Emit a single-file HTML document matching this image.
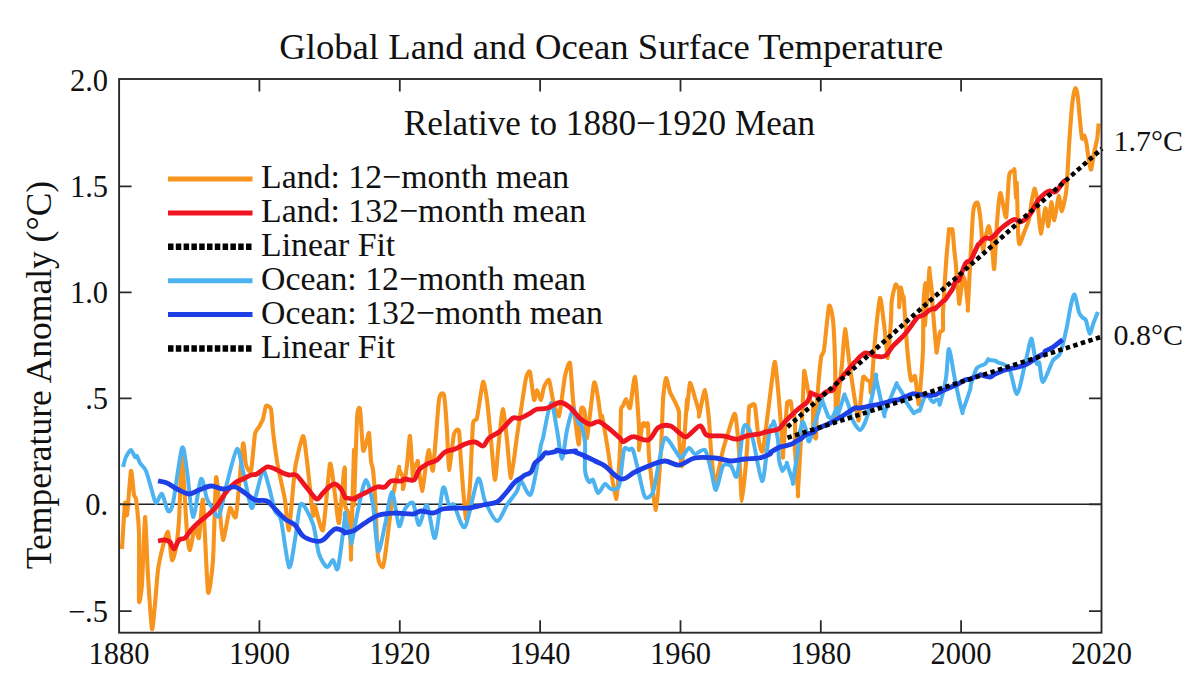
<!DOCTYPE html><html><head><meta charset="utf-8"><style>html,body{margin:0;padding:0;background:#fff;width:1200px;height:685px;overflow:hidden}svg{display:block}text{font-family:"Liberation Serif",serif;fill:#111}</style></head><body><svg width="1200" height="685" viewBox="0 0 1200 685"><line x1="119.1" y1="504.3" x2="1101.5" y2="504.3" stroke="#222" stroke-width="1.6"/><path d="M122.0,549.0 C122.3,544.4 124.5,506.4 125.0,503.0 C125.5,499.6 126.4,518.2 127.0,515.0 C127.6,511.8 130.3,473.0 131.0,471.0 C131.7,469.0 133.5,492.2 134.0,495.0 C134.5,497.8 135.5,495.2 136.0,499.0 C136.5,502.8 138.7,522.8 139.0,533.0 C139.3,543.2 138.7,595.9 139.0,601.0 C139.3,606.1 141.4,592.4 142.0,584.0 C142.6,575.6 144.4,517.8 145.0,517.0 C145.6,516.2 147.3,564.8 148.0,576.0 C148.7,587.2 151.3,626.2 152.0,629.0 C152.7,631.8 154.4,609.9 155.0,604.0 C155.6,598.1 157.2,575.8 158.0,570.0 C158.8,564.2 162.0,549.8 163.0,546.0 C164.0,542.2 167.1,530.6 168.0,532.0 C168.9,533.4 171.2,558.4 172.0,560.0 C172.8,561.6 175.3,552.0 176.0,548.0 C176.7,544.0 178.4,529.1 179.0,520.0 C179.6,510.9 181.2,455.7 182.0,457.0 C182.8,458.3 186.2,523.7 187.0,533.0 C187.8,542.3 189.2,550.7 190.0,550.0 C190.8,549.3 194.1,527.2 195.0,526.0 C195.9,524.8 198.2,540.6 199.0,538.0 C199.8,535.4 202.1,494.6 203.0,500.0 C203.9,505.4 207.0,586.0 208.0,592.0 C209.0,598.0 212.2,571.4 213.0,560.0 C213.8,548.6 215.4,483.9 216.0,478.0 C216.6,472.1 218.3,494.8 219.0,501.0 C219.7,507.2 221.9,539.3 223.0,540.0 C224.1,540.7 228.7,510.4 230.0,508.0 C231.3,505.6 234.7,522.4 236.0,516.0 C237.3,509.6 242.0,449.1 243.0,444.0 C244.0,438.9 245.2,462.3 246.0,465.0 C246.8,467.7 250.1,474.1 251.0,471.0 C251.9,467.9 254.2,438.4 255.0,434.0 C255.8,429.6 258.2,428.5 259.0,427.0 C259.8,425.5 262.3,421.1 263.0,419.0 C263.7,416.9 265.2,407.0 266.0,406.0 C266.8,405.0 270.3,406.5 271.0,409.0 C271.7,411.5 272.4,425.8 273.0,431.0 C273.6,436.2 276.2,456.0 277.0,461.0 C277.8,466.0 280.2,477.1 281.0,481.0 C281.8,484.9 284.2,495.1 285.0,500.0 C285.8,504.9 288.0,533.1 289.0,530.0 C290.0,526.9 293.6,478.4 295.0,469.0 C296.4,459.6 301.8,436.8 303.0,436.0 C304.2,435.2 306.0,453.1 307.0,461.0 C308.0,468.9 312.2,510.5 313.0,515.0 C313.8,519.5 314.0,504.5 315.0,506.0 C316.0,507.5 321.5,534.2 323.0,530.0 C324.5,525.8 328.8,467.5 330.0,464.0 C331.2,460.5 334.1,489.1 335.0,495.0 C335.9,500.9 338.1,525.4 339.0,523.0 C339.9,520.6 343.4,476.3 344.0,471.0 C344.6,465.7 344.9,466.6 345.0,470.0 C345.1,473.4 344.6,500.5 345.0,505.0 C345.4,509.5 348.4,510.1 349.0,515.0 C349.6,519.9 350.8,550.1 351.0,554.0 C351.2,557.9 350.7,564.4 351.0,554.0 C351.3,543.6 353.7,454.9 354.0,450.0 C354.3,445.1 353.7,508.2 354.0,505.0 C354.3,501.8 356.4,427.6 357.0,418.0 C357.6,408.4 359.4,405.8 360.0,409.0 C360.6,412.2 362.4,446.5 363.0,450.0 C363.6,453.5 365.4,445.7 366.0,444.0 C366.6,442.3 368.5,431.3 369.0,433.0 C369.5,434.7 370.6,457.3 371.0,461.0 C371.4,464.7 372.6,466.6 373.0,470.0 C373.4,473.4 374.5,486.3 375.0,495.0 C375.5,503.7 377.2,549.8 378.0,557.0 C378.8,564.2 382.2,567.8 383.0,567.0 C383.8,566.2 385.4,553.2 386.0,549.0 C386.6,544.8 388.3,530.4 389.0,525.0 C389.7,519.6 392.0,500.7 393.0,495.0 C394.0,489.3 398.4,470.6 399.0,468.0 C399.6,465.4 398.6,468.0 399.0,469.0 C399.4,470.0 402.6,476.0 403.0,478.0 C403.4,480.0 402.6,490.3 403.0,489.0 C403.4,487.7 406.3,470.3 407.0,465.0 C407.7,459.7 409.4,434.6 410.0,436.0 C410.6,437.4 412.6,475.8 413.0,479.0 C413.4,482.2 413.6,469.6 414.0,468.0 C414.4,466.4 416.6,463.6 417.0,463.0 C417.4,462.4 417.5,459.2 418.0,462.0 C418.5,464.8 421.2,490.7 422.0,491.0 C422.8,491.3 425.3,469.1 426.0,465.0 C426.7,460.9 428.3,449.5 429.0,450.0 C429.7,450.5 432.0,475.0 433.0,470.0 C434.0,465.0 437.9,407.5 439.0,400.0 C440.1,392.5 443.2,392.0 444.0,395.0 C444.8,398.0 446.5,422.5 447.0,430.0 C447.5,437.5 448.3,469.6 449.0,470.0 C449.7,470.4 453.0,437.9 454.0,434.0 C455.0,430.1 458.3,428.2 459.0,431.0 C459.7,433.8 460.3,453.2 461.0,462.0 C461.7,470.8 465.1,516.7 466.0,519.0 C466.9,521.3 469.3,494.5 470.0,485.0 C470.7,475.5 472.3,430.7 473.0,424.0 C473.7,417.3 476.0,422.2 477.0,418.0 C478.0,413.8 482.0,383.8 483.0,382.0 C484.0,380.2 486.2,394.2 487.0,400.0 C487.8,405.8 490.2,432.0 491.0,440.0 C491.8,448.0 494.2,480.0 495.0,480.0 C495.8,480.0 498.2,447.1 499.0,440.0 C499.8,432.9 502.2,409.0 503.0,409.0 C503.8,409.0 506.2,433.1 507.0,440.0 C507.8,446.9 510.0,478.4 511.0,478.0 C512.0,477.6 516.0,442.8 517.0,436.0 C518.0,429.2 520.1,415.8 521.0,410.0 C521.9,404.2 525.1,381.8 526.0,378.0 C526.9,374.2 529.2,369.8 530.0,372.0 C530.8,374.2 533.3,398.2 534.0,400.0 C534.7,401.8 536.3,390.0 537.0,390.0 C537.7,390.0 540.3,400.3 541.0,400.0 C541.7,399.7 543.2,389.0 544.0,387.0 C544.8,385.0 548.1,378.7 549.0,380.0 C549.9,381.3 552.0,396.4 553.0,400.0 C554.0,403.6 557.8,418.4 559.0,416.0 C560.2,413.6 563.9,381.3 565.0,376.0 C566.1,370.7 569.2,360.6 570.0,363.0 C570.8,365.4 572.3,392.9 573.0,400.0 C573.7,407.1 576.4,429.6 577.0,434.0 C577.6,438.4 578.6,446.4 579.0,444.0 C579.4,441.6 580.6,413.6 581.0,410.0 C581.4,406.4 582.6,407.6 583.0,408.0 C583.4,408.4 584.6,411.0 585.0,414.0 C585.4,417.0 586.1,441.1 587.0,438.0 C587.9,434.9 592.9,387.0 594.0,383.0 C595.1,379.0 597.3,394.3 598.0,398.0 C598.7,401.7 600.6,418.2 601.0,420.0 C601.4,421.8 601.4,413.6 602.0,416.0 C602.6,418.4 605.6,435.7 607.0,444.0 C608.4,452.3 614.7,498.4 616.0,499.0 C617.3,499.6 619.5,458.9 620.0,450.0 C620.5,441.1 620.7,414.4 621.0,410.0 C621.3,405.6 622.5,407.1 623.0,406.0 C623.5,404.9 625.3,398.8 626.0,399.0 C626.7,399.2 629.1,410.2 630.0,408.0 C630.9,405.8 634.1,375.0 635.0,377.0 C635.9,379.0 638.6,420.7 639.0,428.0 C639.4,435.3 638.7,450.2 639.0,450.0 C639.3,449.8 641.5,428.7 642.0,426.0 C642.5,423.3 643.7,423.0 644.0,423.0 C644.3,423.0 644.6,425.9 645.0,426.0 C645.4,426.1 647.6,421.0 648.0,424.0 C648.4,427.0 648.2,447.4 649.0,456.0 C649.8,464.6 654.8,510.6 656.0,510.0 C657.2,509.4 660.3,461.0 661.0,450.0 C661.7,439.0 662.5,407.2 663.0,400.0 C663.5,392.8 665.3,378.8 666.0,378.0 C666.7,377.2 669.1,389.6 670.0,392.0 C670.9,394.4 674.1,400.0 675.0,402.0 C675.9,404.0 678.6,408.8 679.0,412.0 C679.4,415.2 678.7,428.6 679.0,434.0 C679.3,439.4 681.2,469.4 682.0,466.0 C682.8,462.6 686.5,405.6 687.0,400.0 C687.5,394.4 686.7,411.7 687.0,410.0 C687.3,408.3 689.2,384.2 690.0,383.0 C690.8,381.8 694.1,395.1 695.0,398.0 C695.9,400.9 698.6,410.2 699.0,412.0 C699.4,413.8 698.4,418.2 699.0,416.0 C699.6,413.8 704.0,389.6 705.0,390.0 C706.0,390.4 708.4,414.0 709.0,420.0 C709.6,426.0 710.4,443.6 711.0,450.0 C711.6,456.4 713.8,484.0 715.0,484.0 C716.2,484.0 721.6,455.4 723.0,450.0 C724.4,444.6 727.8,433.6 729.0,430.0 C730.2,426.4 734.0,412.0 735.0,414.0 C736.0,416.0 738.3,441.3 739.0,450.0 C739.7,458.7 741.2,501.0 742.0,501.0 C742.8,501.0 746.3,459.3 747.0,450.0 C747.7,440.7 748.6,412.4 749.0,408.0 C749.4,403.6 750.6,406.4 751.0,406.0 C751.4,405.6 752.6,404.0 753.0,404.0 C753.4,404.0 754.6,404.0 755.0,406.0 C755.4,408.0 756.6,420.4 757.0,424.0 C757.4,427.6 758.4,439.4 759.0,442.0 C759.6,444.6 761.7,456.2 763.0,450.0 C764.3,443.8 770.8,388.8 772.0,380.0 C773.2,371.2 774.3,360.0 775.0,362.0 C775.7,364.0 778.2,391.0 779.0,400.0 C779.8,409.0 782.6,446.5 783.0,452.0 C783.4,457.5 782.6,459.8 783.0,455.0 C783.4,450.2 786.6,408.9 787.0,404.0 C787.4,399.1 786.9,406.2 787.0,406.0 C787.1,405.8 787.7,402.5 788.0,402.0 C788.3,401.5 789.7,401.0 790.0,401.0 C790.3,401.0 790.8,401.1 791.0,402.0 C791.2,402.9 791.6,408.2 792.0,410.0 C792.4,411.8 794.7,416.0 795.0,420.0 C795.3,424.0 795.0,447.0 795.0,450.0 C795.0,453.0 794.7,445.8 795.0,450.0 C795.3,454.2 797.7,487.8 798.0,492.0 C798.3,496.2 797.6,499.2 798.0,492.0 C798.4,484.8 801.4,431.9 802.0,420.0 C802.6,408.1 803.7,377.6 804.0,373.0 C804.3,368.4 804.6,372.3 805.0,374.0 C805.4,375.7 807.6,387.8 808.0,390.0 C808.4,392.2 808.8,395.0 809.0,396.0 C809.2,397.0 809.6,399.0 810.0,400.0 C810.4,401.0 812.7,403.0 813.0,406.0 C813.3,409.0 812.7,426.8 813.0,430.0 C813.3,433.2 815.6,440.6 816.0,438.0 C816.4,435.4 816.5,412.0 817.0,404.0 C817.5,396.0 820.3,363.4 821.0,358.0 C821.7,352.6 823.2,355.2 824.0,350.0 C824.8,344.8 828.1,309.0 829.0,306.0 C829.9,303.0 832.4,314.6 833.0,320.0 C833.6,325.4 834.7,350.2 835.0,360.0 C835.3,369.8 835.7,414.0 836.0,418.0 C836.3,422.0 837.4,405.4 838.0,400.0 C838.6,394.6 841.3,371.1 842.0,364.0 C842.7,356.9 844.3,329.4 845.0,329.0 C845.7,328.6 848.2,354.1 849.0,360.0 C849.8,365.9 852.1,382.2 853.0,388.0 C853.9,393.8 857.4,415.0 858.0,418.0 C858.6,421.0 858.5,422.0 859.0,418.0 C859.5,414.0 862.2,381.8 863.0,378.0 C863.8,374.2 866.3,379.6 867.0,380.0 C867.7,380.4 869.6,380.8 870.0,382.0 C870.4,383.2 870.5,396.2 871.0,392.0 C871.5,387.8 874.1,349.4 875.0,340.0 C875.9,330.6 879.1,299.6 880.0,298.0 C880.9,296.4 883.2,318.0 884.0,324.0 C884.8,330.0 887.3,358.4 888.0,358.0 C888.7,357.6 890.6,325.7 891.0,320.0 C891.4,314.3 891.3,304.6 891.7,301.2 C892.1,297.8 894.5,287.7 895.0,286.0 C895.5,284.3 895.8,284.3 896.2,284.7 C896.6,285.1 898.7,287.7 899.0,290.0 C899.3,292.3 899.1,307.5 899.2,307.2 C899.4,307.0 900.4,288.6 900.8,287.7 C901.1,286.7 902.7,296.9 903.0,298.0 C903.3,299.1 903.4,293.4 903.8,298.2 C904.2,303.0 906.3,337.8 907.0,346.0 C907.7,354.2 910.2,377.0 911.0,380.0 C911.8,383.0 914.3,374.0 915.0,376.0 C915.7,378.0 917.6,397.4 918.0,400.0 C918.4,402.6 918.5,407.0 919.0,402.0 C919.5,397.0 922.6,359.2 923.0,350.0 C923.4,340.8 923.1,316.9 923.3,310.2 C923.5,303.5 924.6,283.2 924.8,283.2 C925.0,283.1 925.0,305.8 925.0,310.0 C925.0,314.2 924.6,328.5 925.0,324.7 C925.4,320.8 928.9,276.5 929.3,271.1 C929.8,265.8 929.2,268.9 929.5,271.3 C929.8,273.7 932.0,291.8 932.3,295.2 C932.6,298.6 932.1,299.6 932.5,305.1 C932.9,310.6 935.8,345.7 936.3,350.2 C936.7,354.7 936.6,351.8 937.0,350.0 C937.4,348.2 939.4,334.2 940.0,332.2 C940.6,330.2 942.7,332.0 943.0,330.0 C943.3,328.0 942.8,319.1 943.0,312.6 C943.3,306.1 945.3,273.3 945.9,265.1 C946.4,256.9 948.6,234.0 948.9,230.5 C949.2,227.1 948.8,230.8 949.1,230.7 C949.3,230.5 951.0,229.2 951.3,229.2 C951.7,229.2 952.3,228.4 952.6,230.5 C952.9,232.6 954.0,246.9 954.3,250.2 C954.6,253.5 955.6,261.5 955.8,263.8 C956.0,266.0 956.1,268.8 956.4,272.6 C956.7,276.5 958.7,299.1 959.0,302.0 C959.3,304.9 959.2,304.3 959.6,302.1 C959.9,299.9 962.1,282.9 962.4,280.2 C962.7,277.4 962.3,274.7 962.6,275.0 C962.9,275.3 964.9,280.1 965.4,283.2 C965.9,286.2 967.6,303.6 967.9,305.9 C968.1,308.1 967.5,315.3 968.0,306.0 C968.5,296.7 972.2,222.9 973.1,212.6 C974.1,202.3 976.9,202.1 977.6,202.9 C978.4,203.6 980.1,215.4 980.6,220.2 C981.2,224.9 982.4,248.4 982.9,250.2 C983.3,252.0 984.5,240.6 985.2,238.2 C985.8,235.8 988.2,225.7 988.9,226.2 C989.6,226.6 991.4,238.4 991.9,242.7 C992.4,247.0 993.6,271.3 994.2,269.0 C994.7,266.8 996.6,227.7 997.2,220.2 C997.8,212.6 999.6,194.6 1000.2,193.1 C1000.8,191.6 1002.6,202.7 1003.2,205.1 C1003.8,207.5 1005.7,219.4 1006.2,217.1 C1006.7,214.9 1008.2,187.2 1008.5,183.0 C1008.8,178.8 1009.0,176.2 1009.2,175.0 C1009.4,173.9 1010.3,172.2 1010.7,171.7 C1011.2,171.3 1013.3,170.7 1013.7,170.5 C1014.1,170.4 1014.2,167.5 1014.5,170.2 C1014.7,172.9 1015.8,196.3 1016.0,197.6 C1016.2,198.9 1016.5,179.2 1016.7,183.0 C1017.0,186.8 1017.9,229.1 1018.2,235.2 C1018.5,241.3 1019.1,244.5 1019.7,244.2 C1020.3,243.9 1023.3,234.6 1024.2,232.2 C1025.2,229.8 1028.0,223.3 1028.8,220.2 C1029.5,217.0 1031.2,203.8 1031.8,200.6 C1032.4,197.4 1034.2,188.1 1034.8,188.6 C1035.4,189.0 1037.2,200.6 1037.8,205.1 C1038.4,209.6 1040.0,233.4 1040.8,233.7 C1041.5,234.0 1044.5,208.9 1045.3,208.1 C1046.1,207.4 1047.7,226.8 1048.3,226.2 C1048.9,225.6 1050.7,202.7 1051.3,202.1 C1051.9,201.5 1053.6,220.8 1054.3,220.2 C1055.1,219.5 1058.1,197.0 1058.8,196.1 C1059.6,195.2 1061.1,211.7 1061.8,211.1 C1062.6,210.5 1065.6,197.2 1066.4,190.1 C1067.1,183.0 1068.8,148.9 1069.4,140.2 C1070.0,131.4 1071.8,107.7 1072.4,102.6 C1073.0,97.4 1074.8,89.0 1075.4,88.3 C1075.9,87.5 1077.2,92.0 1077.6,95.0 C1078.1,98.1 1079.4,114.7 1079.9,119.1 C1080.3,123.5 1081.7,137.0 1082.1,138.6 C1082.6,140.3 1083.9,135.0 1084.4,135.6 C1084.8,136.2 1086.2,142.1 1086.7,144.7 C1087.1,147.2 1088.5,158.7 1088.9,161.2 C1089.4,163.7 1090.6,170.4 1091.2,169.5 C1091.7,168.6 1093.6,155.3 1094.2,152.2 C1094.8,149.1 1096.7,141.5 1097.2,138.6 C1097.6,135.8 1098.5,125.1 1098.7,123.6" fill="none" stroke="#F7941D" stroke-width="4.1" stroke-linejoin="round" stroke-linecap="butt"/><path d="M123.0,467.0 C123.4,465.7 124.9,459.3 126.0,457.0 C127.1,454.7 129.8,450.0 131.0,450.0 C132.2,450.0 134.2,456.2 135.0,457.0 C135.8,457.8 136.3,455.2 137.0,456.0 C137.7,456.8 138.8,461.0 140.0,463.0 C141.2,465.0 144.4,467.3 146.0,471.0 C147.6,474.7 150.7,486.7 152.0,491.0 C153.3,495.3 154.7,502.6 156.0,503.0 C157.3,503.4 160.4,492.9 162.0,494.0 C163.6,495.1 166.5,509.8 168.0,511.0 C169.5,512.2 171.1,511.4 173.0,503.0 C174.9,494.6 180.1,452.3 182.0,448.0 C183.9,443.7 185.5,461.8 187.0,471.0 C188.5,480.2 191.1,515.9 193.0,517.0 C194.9,518.1 199.1,481.4 201.0,479.0 C202.9,476.6 205.4,495.0 207.0,499.0 C208.6,503.0 211.4,506.7 213.0,509.0 C214.6,511.3 217.1,519.5 219.0,516.0 C220.9,512.5 224.6,491.9 227.0,483.0 C229.4,474.1 234.9,450.6 237.0,449.0 C239.1,447.4 241.1,463.3 243.0,471.0 C244.9,478.7 249.4,503.3 251.0,507.0 C252.6,510.7 253.4,503.8 255.0,499.0 C256.6,494.2 261.1,472.6 263.0,471.0 C264.9,469.4 267.4,481.7 269.0,487.0 C270.6,492.3 273.4,506.6 275.0,511.0 C276.6,515.4 279.1,512.5 281.0,520.0 C282.9,527.5 287.1,564.3 289.0,567.0 C290.9,569.7 293.4,548.4 295.0,540.0 C296.6,531.6 298.6,506.1 301.0,504.0 C303.4,501.9 310.6,517.3 313.0,524.0 C315.4,530.7 317.1,548.3 319.0,554.0 C320.9,559.7 325.1,566.2 327.0,567.0 C328.9,567.8 331.5,559.9 333.0,560.0 C334.5,560.1 336.4,573.9 338.0,568.0 C339.6,562.1 344.1,522.8 345.0,516.0 C345.9,509.2 344.2,513.8 345.0,517.0 C345.8,520.2 350.1,536.8 351.0,540.0 C351.9,543.2 350.9,545.7 352.0,541.0 C353.1,536.3 357.1,513.1 359.0,505.0 C360.9,496.9 364.1,480.0 366.0,480.0 C367.9,480.0 371.4,495.5 373.0,505.0 C374.6,514.5 376.4,548.3 378.0,551.0 C379.6,553.7 383.1,532.9 385.0,525.0 C386.9,517.1 390.1,491.9 392.0,492.0 C393.9,492.1 397.3,523.7 399.0,526.0 C400.7,528.3 403.1,512.1 405.0,509.0 C406.9,505.9 411.1,500.9 413.0,503.0 C414.9,505.1 417.1,524.7 419.0,525.0 C420.9,525.3 424.9,503.3 427.0,505.0 C429.1,506.7 432.9,540.3 435.0,538.0 C437.1,535.7 441.1,492.4 443.0,488.0 C444.9,483.6 447.5,502.7 449.0,505.0 C450.5,507.3 451.9,502.1 454.0,505.0 C456.1,507.9 461.8,530.5 465.0,527.0 C468.2,523.5 475.3,482.5 478.0,479.0 C480.7,475.5 482.5,495.4 485.0,501.0 C487.5,506.6 494.1,520.5 497.0,521.0 C499.9,521.5 504.3,509.0 507.0,505.0 C509.7,501.0 515.1,494.2 517.0,491.0 C518.9,487.8 519.1,480.6 521.0,481.0 C522.9,481.4 528.3,498.8 531.0,494.0 C533.7,489.2 539.4,452.5 541.0,445.0 C542.6,437.5 541.7,443.6 543.0,438.0 C544.3,432.4 549.1,404.1 551.0,403.0 C552.9,401.9 555.5,422.5 557.0,430.0 C558.5,437.5 560.7,459.0 562.0,459.0 C563.3,459.0 565.5,436.7 567.0,430.0 C568.5,423.3 571.9,411.1 573.0,409.0 C574.1,406.9 574.2,412.0 575.0,414.0 C575.8,416.0 578.2,422.7 579.0,424.0 C579.8,425.3 580.2,421.6 581.0,424.0 C581.8,426.4 584.5,435.9 585.0,442.0 C585.5,448.1 584.5,464.7 585.0,470.0 C585.5,475.3 587.9,480.7 589.0,482.0 C590.1,483.3 591.8,478.5 593.0,480.0 C594.2,481.5 596.4,492.5 598.0,493.0 C599.6,493.5 603.3,484.5 605.0,484.0 C606.7,483.5 609.1,488.7 611.0,489.0 C612.9,489.3 617.3,491.2 619.0,486.0 C620.7,480.8 622.7,454.8 624.0,450.0 C625.3,445.2 627.8,450.0 629.0,450.0 C630.2,450.0 631.7,446.8 633.0,450.0 C634.3,453.2 637.4,467.7 639.0,474.0 C640.6,480.3 643.1,494.6 645.0,497.0 C646.9,499.4 651.1,496.7 653.0,492.0 C654.9,487.3 657.4,469.2 659.0,462.0 C660.6,454.8 662.9,439.6 665.0,438.0 C667.1,436.4 672.9,447.3 675.0,450.0 C677.1,452.7 679.1,458.3 681.0,458.0 C682.9,457.7 687.1,448.5 689.0,448.0 C690.9,447.5 692.9,453.7 695.0,454.0 C697.1,454.3 702.9,447.9 705.0,450.0 C707.1,452.1 709.5,464.7 711.0,470.0 C712.5,475.3 714.4,490.5 716.0,490.0 C717.6,489.5 721.0,469.2 723.0,466.0 C725.0,462.8 729.1,464.7 731.0,466.0 C732.9,467.3 735.4,480.8 737.0,476.0 C738.6,471.2 741.7,436.7 743.0,430.0 C744.3,423.3 745.7,424.7 747.0,426.0 C748.3,427.3 751.0,432.7 753.0,440.0 C755.0,447.3 760.1,479.7 762.0,481.0 C763.9,482.3 765.9,457.1 767.0,450.0 C768.1,442.9 769.2,431.5 770.0,428.0 C770.8,424.5 772.5,424.8 773.0,424.0 C773.5,423.2 773.3,419.9 774.0,422.0 C774.7,424.1 777.3,434.9 778.0,440.0 C778.7,445.1 778.5,456.0 779.0,460.0 C779.5,464.0 781.5,468.7 782.0,470.0 C782.5,471.3 782.3,470.8 783.0,470.0 C783.7,469.2 786.5,464.8 787.0,464.0 C787.5,463.2 786.2,461.6 787.0,464.0 C787.8,466.4 792.2,479.7 793.0,482.0 C793.8,484.3 792.3,485.3 793.0,481.0 C793.7,476.7 797.2,456.0 798.0,450.0 C798.8,444.0 798.5,439.5 799.0,436.0 C799.5,432.5 801.5,425.9 802.0,424.0 C802.5,422.1 802.5,421.2 803.0,422.0 C803.5,422.8 805.3,427.6 806.0,430.0 C806.7,432.4 807.5,438.7 808.0,440.0 C808.5,441.3 808.9,442.7 810.0,440.0 C811.1,437.3 814.4,425.3 816.0,420.0 C817.6,414.7 821.2,402.7 822.0,400.0 C822.8,397.3 821.2,397.9 822.0,400.0 C822.8,402.1 827.1,413.7 828.0,416.0 C828.9,418.3 828.5,416.7 829.0,417.0 C829.5,417.3 830.9,419.2 832.0,418.0 C833.1,416.8 836.2,408.5 837.0,408.0 C837.8,407.5 837.1,415.6 838.0,414.0 C838.9,412.4 843.1,398.4 844.0,396.0 C844.9,393.6 844.2,394.1 845.0,396.0 C845.8,397.9 849.2,407.2 850.0,410.0 C850.8,412.8 849.7,414.3 851.0,417.0 C852.3,419.7 857.7,430.4 860.0,430.0 C862.3,429.6 865.9,420.9 868.0,414.0 C870.1,407.1 874.9,382.8 876.0,378.0 C877.1,373.2 874.9,373.2 876.0,378.0 C877.1,382.8 882.8,409.5 884.0,414.0 C885.2,418.5 883.4,415.9 885.0,412.0 C886.6,408.1 894.4,388.6 896.0,385.0 C897.6,381.4 895.9,383.5 897.0,385.0 C898.1,386.5 902.9,394.0 904.0,396.0 C905.1,398.0 903.8,397.9 905.0,400.0 C906.2,402.1 911.8,410.3 913.0,412.0 C914.2,413.7 913.2,413.3 914.0,413.0 C914.8,412.7 918.2,410.4 919.0,410.0 C919.8,409.6 919.2,411.9 920.0,410.0 C920.8,408.1 923.9,397.9 925.0,396.0 C926.1,394.1 926.9,395.2 928.0,396.0 C929.1,396.8 931.9,401.5 933.0,402.0 C934.1,402.5 935.2,400.3 936.0,400.0 C936.8,399.7 938.5,399.5 939.0,400.0 C939.5,400.5 939.1,406.9 940.0,404.0 C940.9,401.1 944.8,385.3 946.0,378.0 C947.2,370.7 947.8,348.7 949.0,349.0 C950.2,349.3 953.3,371.7 955.0,380.0 C956.7,388.3 960.9,407.0 962.0,411.0 C963.1,415.0 961.9,412.8 963.0,410.0 C964.1,407.2 968.9,393.5 970.0,390.0 C971.1,386.5 970.1,386.9 971.0,384.0 C971.9,381.1 975.1,370.7 977.0,368.0 C978.9,365.3 983.5,365.2 985.0,364.0 C986.5,362.8 987.6,359.8 988.2,359.2 C988.7,358.7 988.0,359.8 989.0,360.0 C990.0,360.2 994.6,360.5 995.7,360.8 C996.7,361.0 995.2,361.0 997.0,362.0 C998.8,363.0 1006.3,363.7 1009.0,368.0 C1011.7,372.3 1014.9,394.5 1017.0,394.0 C1019.1,393.5 1023.2,371.0 1025.0,364.0 C1026.8,357.0 1029.3,344.4 1030.3,341.2 C1031.2,338.0 1031.4,338.0 1032.0,340.0 C1032.6,342.0 1034.1,353.0 1034.8,356.2 C1035.4,359.4 1036.4,363.1 1037.0,364.0 C1037.6,364.9 1038.5,360.6 1039.3,363.0 C1040.1,365.4 1041.2,382.3 1043.0,382.0 C1044.8,381.7 1050.5,364.6 1052.8,360.8 C1055.1,356.9 1058.5,357.4 1060.3,353.2 C1062.1,349.0 1064.9,335.6 1066.4,329.2 C1067.8,322.8 1069.8,309.7 1070.9,305.1 C1072.0,300.5 1073.5,293.6 1074.6,294.6 C1075.7,295.6 1078.0,309.5 1079.1,312.6 C1080.2,315.7 1082.0,316.9 1082.9,317.9 C1083.8,318.9 1085.0,318.0 1085.9,320.2 C1086.8,322.3 1088.7,333.3 1089.7,333.7 C1090.7,334.1 1092.3,326.1 1093.4,323.2 C1094.5,320.3 1097.3,313.4 1097.9,311.9" fill="none" stroke="#4DB3F0" stroke-width="4.0" stroke-linejoin="round" stroke-linecap="butt"/><path d="M158.0,541.0 C159.2,540.8 163.0,539.8 165.0,540.0 C167.0,540.2 168.5,540.5 170.0,542.0 C171.5,543.5 172.5,549.3 174.0,549.0 C175.5,548.7 177.2,541.8 179.0,540.0 C180.8,538.2 183.0,539.7 185.0,538.0 C187.0,536.3 188.7,532.7 191.0,530.0 C193.3,527.3 196.0,524.7 199.0,522.0 C202.0,519.3 206.3,516.3 209.0,514.0 C211.7,511.7 213.3,509.8 215.0,508.0 C216.7,506.2 217.0,505.8 219.0,503.0 C221.0,500.2 224.3,494.3 227.0,491.0 C229.7,487.7 232.3,485.0 235.0,483.0 C237.7,481.0 240.3,480.3 243.0,479.0 C245.7,477.7 248.7,475.8 251.0,475.0 C253.3,474.2 254.3,475.3 257.0,474.0 C259.7,472.7 264.0,467.8 267.0,467.0 C270.0,466.2 272.3,468.0 275.0,469.0 C277.7,470.0 280.7,472.0 283.0,473.0 C285.3,474.0 286.8,474.7 289.0,475.0 C291.2,475.3 293.7,473.7 296.0,475.0 C298.3,476.3 300.5,480.0 303.0,483.0 C305.5,486.0 308.7,490.3 311.0,493.0 C313.3,495.7 315.0,499.0 317.0,499.0 C319.0,499.0 321.0,495.0 323.0,493.0 C325.0,491.0 327.0,488.5 329.0,487.0 C331.0,485.5 333.0,483.7 335.0,484.0 C337.0,484.3 339.3,486.8 341.0,489.0 C342.7,491.2 344.0,495.5 345.0,497.0 C346.0,498.5 345.3,497.7 347.0,498.0 C348.7,498.3 353.7,499.0 355.0,499.0 C356.3,499.0 353.3,499.0 355.0,498.0 C356.7,497.0 361.3,494.8 365.0,493.0 C368.7,491.2 373.7,488.0 377.0,487.0 C380.3,486.0 382.7,488.0 385.0,487.0 C387.3,486.0 388.3,482.0 391.0,481.0 C393.7,480.0 398.7,481.3 401.0,481.0 C403.3,480.7 402.8,479.2 405.0,479.0 C407.2,478.8 411.7,481.5 414.0,480.0 C416.3,478.5 416.8,472.7 419.0,470.0 C421.2,467.3 424.0,465.7 427.0,464.0 C430.0,462.3 434.0,462.0 437.0,460.0 C440.0,458.0 442.0,453.8 445.0,452.0 C448.0,450.2 451.7,450.3 455.0,449.0 C458.3,447.7 461.7,445.2 465.0,444.0 C468.3,442.8 472.0,441.7 475.0,442.0 C478.0,442.3 480.7,446.7 483.0,446.0 C485.3,445.3 486.3,440.3 489.0,438.0 C491.7,435.7 496.3,434.0 499.0,432.0 C501.7,430.0 502.7,428.3 505.0,426.0 C507.3,423.7 510.5,419.3 513.0,418.0 C515.5,416.7 517.2,419.1 520.0,418.3 C522.8,417.6 527.2,414.9 530.0,413.3 C532.8,411.8 533.9,410.0 536.7,409.2 C539.4,408.3 542.8,409.4 546.7,408.3 C550.6,407.2 556.1,402.6 560.0,402.5 C563.9,402.4 566.7,404.9 570.0,407.5 C573.3,410.1 576.7,415.6 580.0,418.3 C583.3,421.1 586.9,423.6 590.0,424.2 C593.1,424.7 595.6,421.2 598.3,421.7 C601.1,422.1 603.1,423.9 606.7,426.7 C610.3,429.4 617.2,435.8 620.0,438.3 C622.8,440.8 621.1,441.9 623.3,441.7 C625.6,441.4 629.2,436.9 633.3,436.7 C637.5,436.4 644.2,441.5 648.3,440.0 C652.5,438.5 654.7,429.9 658.3,427.5 C661.9,425.1 666.4,424.9 670.0,425.8 C673.6,426.8 677.2,431.5 680.0,433.3 C682.8,435.1 683.3,437.9 686.7,436.7 C690.0,435.4 696.7,426.1 700.0,425.8 C703.3,425.6 703.3,433.3 706.7,435.0 C710.0,436.7 716.7,435.6 720.0,435.8 C723.3,436.1 723.9,436.1 726.7,436.7 C729.4,437.2 733.3,439.3 736.7,439.2 C740.0,439.0 743.1,436.7 746.7,435.8 C750.3,435.0 755.0,434.9 758.3,434.2 C761.7,433.5 763.3,432.5 766.7,431.7 C770.0,430.8 775.3,430.8 778.3,429.2 C781.4,427.5 782.8,424.0 785.0,421.7 C787.2,419.3 789.2,417.4 791.7,415.0 C794.2,412.6 797.5,409.6 800.0,407.5 C802.5,405.4 804.8,404.8 806.7,402.5 C808.5,400.2 810.3,395.6 811.0,394.0 C811.7,392.4 809.8,392.7 811.0,393.0 C812.2,393.3 816.3,395.5 818.0,396.0 C819.7,396.5 819.7,396.7 821.0,396.0 C822.3,395.3 824.0,393.0 826.0,392.0 C828.0,391.0 831.3,391.3 833.0,390.0 C834.7,388.7 834.3,386.3 836.0,384.0 C837.7,381.7 839.8,379.7 843.0,376.0 C846.2,372.3 851.3,365.8 855.0,362.0 C858.7,358.2 861.7,354.0 865.0,353.0 C868.3,352.0 871.7,355.5 875.0,356.0 C878.3,356.5 882.0,357.7 885.0,356.0 C888.0,354.3 889.7,349.7 893.0,346.0 C896.3,342.3 901.0,338.7 905.0,334.0 C909.0,329.3 914.4,321.0 917.0,318.0 C919.6,315.0 919.0,316.9 920.3,316.2 C921.6,315.6 923.5,315.0 925.0,314.0 C926.5,313.0 927.7,311.2 929.3,310.2 C931.0,309.2 934.0,308.3 935.0,308.0 C936.0,307.7 934.0,309.9 935.3,308.7 C936.6,307.6 941.2,302.7 942.9,301.2 C944.5,299.7 943.7,301.5 945.0,300.0 C946.3,298.5 949.0,294.2 950.4,292.2 C951.7,290.2 952.0,290.3 953.0,288.0 C954.0,285.7 955.4,280.0 956.4,278.6 C957.4,277.3 957.5,282.5 959.0,280.0 C960.5,277.5 963.6,266.8 965.4,263.6 C967.3,260.4 969.1,261.5 970.1,260.8 C971.1,260.0 970.2,261.6 971.4,259.1 C972.7,256.6 976.4,248.2 977.6,245.7 C978.9,243.2 977.7,245.3 978.9,244.1 C980.2,242.8 983.1,239.2 985.2,238.2 C987.2,237.2 988.7,239.7 991.2,238.2 C993.7,236.7 997.4,231.7 1000.2,229.2 C1002.9,226.7 1005.3,224.8 1007.7,223.2 C1010.1,221.5 1012.2,219.6 1014.5,219.4 C1016.7,219.1 1018.6,222.5 1021.2,221.7 C1023.9,220.8 1027.5,217.6 1030.3,214.1 C1033.0,210.6 1035.3,204.1 1037.8,200.6 C1040.3,197.1 1043.3,194.7 1045.3,193.1 C1047.3,191.5 1048.1,191.1 1049.8,190.8 C1051.6,190.6 1053.6,193.1 1055.8,191.6 C1058.1,190.1 1061.7,183.6 1063.3,181.8 C1065.0,180.0 1065.2,180.9 1065.6,180.8" fill="none" stroke="#EF1520" stroke-width="4.8" stroke-linejoin="round" stroke-linecap="butt"/><path d="M158.0,481.0 C159.5,481.3 163.8,481.7 167.0,483.0 C170.2,484.3 173.3,487.2 177.0,489.0 C180.7,490.8 185.3,493.8 189.0,494.0 C192.7,494.2 195.3,491.3 199.0,490.0 C202.7,488.7 207.0,486.2 211.0,486.0 C215.0,485.8 219.0,488.8 223.0,489.0 C227.0,489.2 231.3,486.3 235.0,487.0 C238.7,487.7 241.7,490.8 245.0,493.0 C248.3,495.2 251.3,498.7 255.0,500.0 C258.7,501.3 263.7,499.5 267.0,501.0 C270.3,502.5 272.0,506.0 275.0,509.0 C278.0,512.0 281.7,516.3 285.0,519.0 C288.3,521.7 292.0,522.2 295.0,525.0 C298.0,527.8 299.7,533.3 303.0,536.0 C306.3,538.7 311.7,540.3 315.0,541.0 C318.3,541.7 319.7,542.0 323.0,540.0 C326.3,538.0 331.3,530.3 335.0,529.0 C338.7,527.7 343.3,531.3 345.0,532.0 C346.7,532.7 343.7,533.2 345.0,533.0 C346.3,532.8 351.3,531.5 353.0,531.0 C354.7,530.5 353.0,531.3 355.0,530.0 C357.0,528.7 361.0,525.5 365.0,523.0 C369.0,520.5 374.0,516.7 379.0,515.0 C384.0,513.3 389.3,513.2 395.0,513.0 C400.7,512.8 408.7,514.3 413.0,514.0 C417.3,513.7 417.7,511.2 421.0,511.0 C424.3,510.8 429.3,513.3 433.0,513.0 C436.7,512.7 439.0,509.8 443.0,509.0 C447.0,508.2 452.7,508.2 457.0,508.0 C461.3,507.8 464.7,508.5 469.0,508.0 C473.3,507.5 478.3,506.0 483.0,505.0 C487.7,504.0 493.3,503.8 497.0,502.0 C500.7,500.2 502.0,497.3 505.0,494.0 C508.0,490.7 512.3,484.7 515.0,482.0 C517.7,479.3 519.3,479.2 521.0,478.0 C522.7,476.8 523.3,476.0 525.0,475.0 C526.7,474.0 529.3,474.0 531.0,472.0 C532.7,470.0 533.3,465.3 535.0,463.0 C536.7,460.7 539.3,459.7 541.0,458.0 C542.7,456.3 543.7,453.8 545.0,453.0 C546.3,452.2 547.0,453.3 549.0,453.0 C551.0,452.7 555.7,451.5 557.0,451.0 C558.3,450.5 555.7,449.8 557.0,450.0 C558.3,450.2 562.0,451.8 565.0,452.0 C568.0,452.2 573.3,451.2 575.0,451.0 C576.7,450.8 575.0,450.8 575.0,451.0 C575.0,451.2 573.3,451.2 575.0,452.0 C576.7,452.8 583.3,455.2 585.0,456.0 C586.7,456.8 585.0,457.0 585.0,457.0 C585.0,457.0 583.3,455.3 585.0,456.0 C586.7,456.7 591.7,459.3 595.0,461.0 C598.3,462.7 600.7,463.0 605.0,466.0 C609.3,469.0 616.0,478.0 621.0,479.0 C626.0,480.0 630.0,474.3 635.0,472.0 C640.0,469.7 646.0,466.8 651.0,465.0 C656.0,463.2 660.3,461.0 665.0,461.0 C669.7,461.0 674.0,465.5 679.0,465.0 C684.0,464.5 689.0,459.2 695.0,458.0 C701.0,456.8 709.0,457.5 715.0,458.0 C721.0,458.5 726.0,460.8 731.0,461.0 C736.0,461.2 740.3,459.5 745.0,459.0 C749.7,458.5 754.8,458.8 759.0,458.0 C763.2,457.2 768.0,455.0 770.0,454.0 C772.0,453.0 769.3,453.2 771.0,452.0 C772.7,450.8 777.7,448.0 780.0,447.0 C782.3,446.0 783.0,446.5 785.0,446.0 C787.0,445.5 790.3,444.7 792.0,444.0 C793.7,443.3 793.3,443.0 795.0,442.0 C796.7,441.0 800.3,439.2 802.0,438.0 C803.7,436.8 803.0,436.0 805.0,435.0 C807.0,434.0 812.3,432.8 814.0,432.0 C815.7,431.2 812.3,431.5 815.0,430.0 C817.7,428.5 825.2,425.5 830.0,423.0 C834.8,420.5 839.8,417.5 844.0,415.0 C848.2,412.5 852.3,409.2 855.0,408.0 C857.7,406.8 856.7,408.5 860.0,408.0 C863.3,407.5 871.7,405.7 875.0,405.0 C878.3,404.3 876.7,404.8 880.0,404.0 C883.3,403.2 892.0,400.7 895.0,400.0 C898.0,399.3 895.2,401.0 898.0,400.0 C900.8,399.0 909.2,395.0 912.0,394.0 C914.8,393.0 912.7,393.8 915.0,394.0 C917.3,394.2 922.7,394.8 926.0,395.0 C929.3,395.2 932.3,395.7 935.0,395.0 C937.7,394.3 939.7,392.2 942.0,391.0 C944.3,389.8 946.3,389.2 949.0,388.0 C951.7,386.8 955.3,385.3 958.0,384.0 C960.7,382.7 963.0,380.8 965.0,380.0 C967.0,379.2 967.5,379.8 970.0,379.0 C972.5,378.2 978.2,375.7 980.0,375.0 C981.8,374.3 979.3,374.7 981.0,375.0 C982.7,375.3 987.7,377.2 990.0,377.0 C992.3,376.8 993.3,374.8 995.0,374.0 C996.7,373.2 998.3,372.7 1000.0,372.0 C1001.7,371.3 1000.8,371.2 1005.0,370.0 C1009.2,368.8 1019.8,367.0 1025.0,365.0 C1030.2,363.0 1032.9,359.7 1036.3,357.7 C1039.6,355.7 1043.5,354.1 1045.0,353.0 C1046.5,351.9 1044.0,351.9 1045.3,351.0 C1046.6,350.0 1049.9,349.1 1052.8,347.2 C1055.7,345.3 1061.0,341.0 1062.6,339.7" fill="none" stroke="#1E3FE6" stroke-width="4.8" stroke-linejoin="round" stroke-linecap="butt"/><path d="M787.5,427.0 L1102.0,148.5" fill="none" stroke="#000" stroke-width="4.6" stroke-linejoin="round" stroke-linecap="butt" stroke-dasharray="4.5 3.4"/><path d="M787.5,437.8 L1102.0,336.6" fill="none" stroke="#000" stroke-width="4.6" stroke-linejoin="round" stroke-linecap="butt" stroke-dasharray="4.5 3.4"/><rect x="119.1" y="79" width="982.4" height="553.7" fill="none" stroke="#2a2a2a" stroke-width="1.9"/><path d="M119.1,186.3h12.5M1101.5,186.3h-12.5M119.1,292.3h12.5M1101.5,292.3h-12.5M119.1,398.3h12.5M1101.5,398.3h-12.5M119.1,504.3h12.5M1101.5,504.3h-12.5M119.1,611.2h12.5M1101.5,611.2h-12.5M259.4,79v12.5M259.4,632.7v-12.5M399.8,79v12.5M399.8,632.7v-12.5M540.1,79v12.5M540.1,632.7v-12.5M680.5,79v12.5M680.5,632.7v-12.5M820.8,79v12.5M820.8,632.7v-12.5M961.1,79v12.5M961.1,632.7v-12.5" stroke="#2a2a2a" stroke-width="1.8" fill="none"/><text x="108" y="90.8" font-size="30.5" text-anchor="end">2.0</text><text x="108" y="196.8" font-size="30.5" text-anchor="end">1.5</text><text x="108" y="302.8" font-size="30.5" text-anchor="end">1.0</text><text x="108" y="408.8" font-size="30.5" text-anchor="end">.5</text><text x="108" y="514.8" font-size="30.5" text-anchor="end">0.</text><text x="108" y="621.7" font-size="30.5" text-anchor="end">−.5</text><text x="119.1" y="663.5" font-size="30.5" text-anchor="middle">1880</text><text x="259.4" y="663.5" font-size="30.5" text-anchor="middle">1900</text><text x="399.8" y="663.5" font-size="30.5" text-anchor="middle">1920</text><text x="540.1" y="663.5" font-size="30.5" text-anchor="middle">1940</text><text x="680.5" y="663.5" font-size="30.5" text-anchor="middle">1960</text><text x="820.8" y="663.5" font-size="30.5" text-anchor="middle">1980</text><text x="961.1" y="663.5" font-size="30.5" text-anchor="middle">2000</text><text x="1101.5" y="663.5" font-size="30.5" text-anchor="middle">2020</text><text x="611.2" y="59.3" font-size="36.7" text-anchor="middle">Global Land and Ocean Surface Temperature</text><text x="609.4" y="135" font-size="35.15" text-anchor="middle">Relative to 1880−1920 Mean</text><text transform="translate(50.5,375) rotate(-90)" font-size="35.5" text-anchor="middle">Temperature Anomaly (°C)</text><text x="1113.5" y="151" font-size="30">1.7°C</text><text x="1113.5" y="345" font-size="30">0.8°C</text><line x1="168" y1="179.0" x2="252.5" y2="179.0" stroke="#F7941D" stroke-width="5"/><text x="261" y="188.0" font-size="33.8">Land: 12−month mean</text><line x1="168" y1="212.9" x2="252.5" y2="212.9" stroke="#EF1520" stroke-width="5"/><text x="261" y="221.9" font-size="33.8">Land: 132−month mean</text><line x1="168" y1="246.8" x2="252.5" y2="246.8" stroke="#000" stroke-width="6.5" stroke-dasharray="5.5 2.3"/><text x="261" y="255.8" font-size="33.8">Linear Fit</text><line x1="168" y1="280.7" x2="252.5" y2="280.7" stroke="#4DB3F0" stroke-width="5"/><text x="261" y="289.7" font-size="33.8">Ocean: 12−month mean</text><line x1="168" y1="314.6" x2="252.5" y2="314.6" stroke="#1E3FE6" stroke-width="5"/><text x="261" y="323.6" font-size="33.8">Ocean: 132−month mean</text><line x1="168" y1="348.5" x2="252.5" y2="348.5" stroke="#000" stroke-width="6.5" stroke-dasharray="5.5 2.3"/><text x="261" y="357.5" font-size="33.8">Linear Fit</text></svg></body></html>
